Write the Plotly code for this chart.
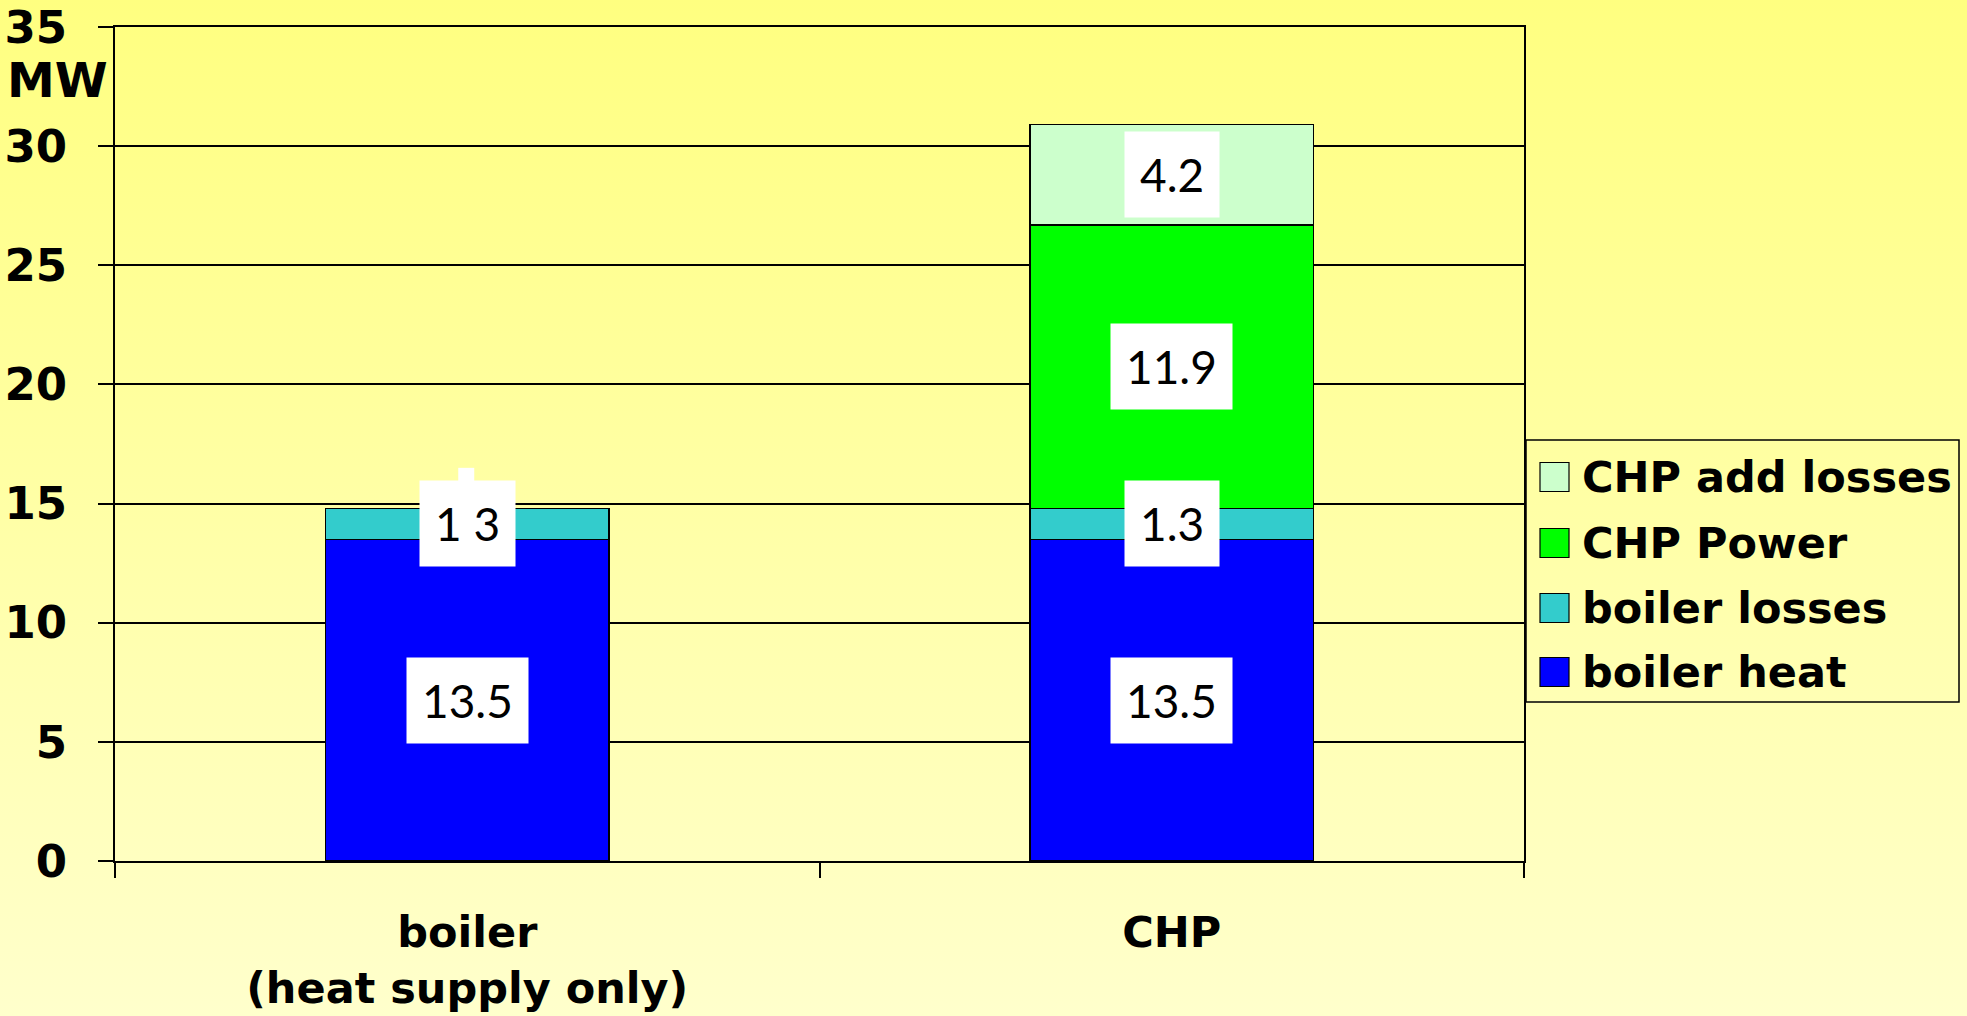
import base64
import plotly.graph_objects as go

# ---------------- data ----------------
categories = ["boiler<br>(heat supply only)", "CHP"]
series_names = ["boiler heat", "boiler losses", "CHP Power", "CHP add losses"]
boiler_heat = [13.5, 13.5]
boiler_losses = [1.3, 1.3]
chp_power = [None, 11.9]
chp_add_losses = [None, 4.2]
series_values = [boiler_heat, boiler_losses, chp_power, chp_add_losses]
series_colors = ["#0000FF", "#33CCCC", "#00FF00", "#CCFFCC"]
# data labels as printed in the picture (the first "1.3" shows as "1 3")
label_text = [["13.5", "13.5"], ["1 3", "1.3"], [None, "11.9"], [None, "4.2"]]
y_ticks = [0, 5, 10, 15, 20, 25, 30, 35]
y_unit = "MW"

# ---------------- layout geometry (pixels) ----------------
W, H = 1967, 1016
L, R, T, B = 115, 443, 27, 155
PW, PH = W - L - R, H - T - B


def px_x(p):
    return (p - L) / PW


def px_y(p):
    return (H - B - p) / PH


BOLD = "DejaVu Sans"

fig = go.Figure()
for name, vals, col in zip(series_names, series_values, series_colors):
    fig.add_trace(go.Bar(
        x=categories, y=vals, name=name,
        marker=dict(color=col, line=dict(color="black", width=1.5)),
        showlegend=False,
    ))

# data labels in white boxes
base = [0.0] * len(categories)
for s, vals in enumerate(series_values):
    for i, v in enumerate(vals):
        if v is None:
            continue
        mid = base[i] + v / 2
        base[i] += v
        txt = label_text[s][i]
        fig.add_annotation(
            x=categories[i], y=mid, xref="x", yref="y", text=txt,
            showarrow=False, xanchor="center", yanchor="middle",
            bgcolor="white", borderpad=15,
            font=dict(family="Lato", size=46, color="black"),
        )
        if txt == "1 3":
            fig.add_shape(
                type="rect", xref="x", yref="y",
                xsizemode="pixel", ysizemode="pixel",
                xanchor=i, yanchor=mid,
                x0=-9, x1=7, y0=41, y1=56,
                fillcolor="white", line=dict(width=0), layer="above",
            )

# manual legend (reverse order, like a stacked chart legend)
leg_x0, leg_x1 = px_x(1526), px_x(1959)
leg_y0, leg_y1 = px_y(702), px_y(440)
fig.add_shape(type="rect", xref="paper", yref="paper",
              x0=leg_x0, x1=leg_x1, y0=leg_y0, y1=leg_y1,
              line=dict(color="black", width=1.5), fillcolor="rgba(0,0,0,0)")
row_px = [477, 543, 608, 672]
for k, s in enumerate(reversed(range(len(series_names)))):
    cy = row_px[k]
    fig.add_shape(type="rect", xref="paper", yref="paper",
                  x0=px_x(1540), x1=px_x(1569), y0=px_y(cy + 14.5), y1=px_y(cy - 14.5),
                  fillcolor=series_colors[s], line=dict(color="black", width=1.2))
    fig.add_annotation(x=px_x(1580), y=px_y(cy), xref="paper", yref="paper",
                       text=series_names[s], showarrow=False,
                       xanchor="left", yanchor="middle",
                       font=dict(family=BOLD, size=43, color="black", weight="bold"))

# unit label on the y axis
fig.add_annotation(x=px_x(57), y=px_y(80), xref="paper", yref="paper", text=y_unit,
                   showarrow=False, xanchor="center", yanchor="middle",
                   font=dict(family=BOLD, size=48, color="black", weight="bold"))

# gradient background
svg = ('<svg xmlns="http://www.w3.org/2000/svg" width="100" height="100" preserveAspectRatio="none">'
       '<defs><linearGradient id="g" x1="0" y1="0" x2="0" y2="1">'
       '<stop offset="0" stop-color="#FFFF80"/><stop offset="1" stop-color="#FFFFCC"/>'
       '</linearGradient></defs><rect width="100" height="100" fill="url(#g)"/></svg>')
src = "data:image/svg+xml;base64," + base64.b64encode(svg.encode()).decode()
fig.add_layout_image(dict(source=src, xref="paper", yref="paper",
                          x=px_x(0), y=px_y(0), sizex=W / PW, sizey=H / PH,
                          xanchor="left", yanchor="top", sizing="stretch",
                          layer="below", opacity=1))

fig.update_layout(
    width=W, height=H,
    margin=dict(l=L, r=R, t=T, b=B, pad=0, autoexpand=False),
    barmode="stack", bargap=0.597,
    paper_bgcolor="#FFFFA6", plot_bgcolor="rgba(0,0,0,0)",
    showlegend=False,
)
fig.update_xaxes(
    automargin=False,
    showline=True, linecolor="black", linewidth=2, mirror=True,
    ticks="outside", ticklen=15, tickwidth=1.5, tickcolor="black",
    tickson="boundaries", ticklabelstandoff=32,
    tickfont=dict(family=BOLD, size=43, color="black", weight="bold"),
    showgrid=False,
)
fig.update_yaxes(
    automargin=False,
    range=[0, 35], tickvals=y_ticks, showline=True, linecolor="black", linewidth=2, mirror=True,
    ticks="outside", ticklen=15, tickwidth=1.5, tickcolor="black", ticklabelstandoff=22,
    tickfont=dict(family=BOLD, size=45, color="black", weight="bold"),
    showgrid=True, gridcolor="black", gridwidth=1.5, zeroline=False,
)

fig.write_html("out.html",
               config={"displayModeBar": False},
               post_script="document.body.style.margin='0';document.body.style.overflow='hidden';")
